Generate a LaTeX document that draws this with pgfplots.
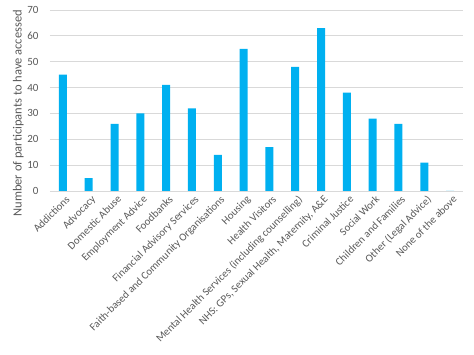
\documentclass[border=0pt]{standalone}
\usepackage{pgfplots}
\pgfplotsset{compat=1.18}
\usepackage{fontspec}
\setmainfont{Carlito}
\definecolor{barc}{HTML}{00B0F0}
\definecolor{gridc}{HTML}{D9D9D9}
\definecolor{txt}{HTML}{595959}
\begin{document}
\begin{tikzpicture}
\begin{axis}[
  at={(0,0)}, anchor=south west,
  scale only axis, width=413pt, height=181pt,
  xmin=-0.5, xmax=15.5, ymin=0, ymax=70,
  ytick={0,10,...,70},
  xtick={0,...,15},
  xticklabels={Addictions,Advocacy,Domestic Abuse,Employment Advice,Foodbanks,Financial Advisory Services,Faith-based and Community Organisations,Housing,Health Visitors,Mental Health Services (including counselling),{NHS: GPs, Sexual Health, Maternity, A\&E},Criminal Justice,Social Work,Children and Families,Other (Legal Advice),None of the above},
  x tick label style={rotate=45, anchor=north east, inner sep=1pt, font=\fontsize{10.8}{12}\selectfont, text=txt, yshift=-3pt},
  y tick label style={font=\fontsize{11}{13}\selectfont, text=txt, xshift=-8pt},
  /pgf/number format/assume math mode=true,
  ymajorgrids, grid style={gridc, line width=0.8pt},
  axis line style={draw=none},
  axis x line*=bottom,
  major tick length=0pt,
  ylabel={Number of participants to have  accessed},
  ylabel style={font=\fontsize{12.5}{14}\selectfont, text=txt, at={(axis description cs:-0.077,0.43)}, anchor=center},
  ybar, bar width=8pt,
  clip=false,
]
\draw[gridc, line width=0.8pt] (axis cs:-0.5,0) -- (axis cs:15.5,0);
\addplot[fill=barc, draw=none] coordinates {
(0,45) (1,5) (2,26) (3,30) (4,41) (5,32) (6,14) (7,55) (8,17) (9,48) (10,63) (11,38) (12,28) (13,26) (14,11) (15,0)};
\end{axis}
\pgfresetboundingbox
\useasboundingbox (-50pt,-164pt) rectangle (424pt,191pt);
\end{tikzpicture}
\end{document}
